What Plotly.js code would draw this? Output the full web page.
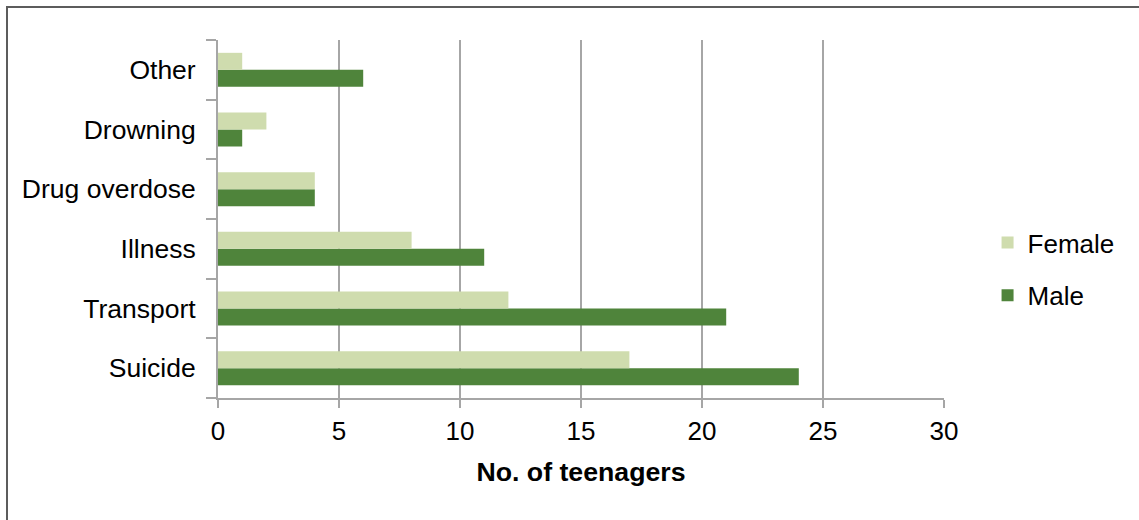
<!DOCTYPE html>
<html>
<head>
<meta charset="utf-8">
<script src="https://cdn.plot.ly/plotly-3.0.1.min.js"></script>
<style>
  html, body { margin: 0; padding: 0; overflow: hidden; background: #fff; }
  #chart { width: 1139px; height: 520px; }
  #frame { position: absolute; left: 6px; top: 6px; width: 2000px; height: 2000px;
           border-top: 2px solid #5c5c5c; border-left: 2px solid #5c5c5c; pointer-events: none; }
</style>
</head>
<body>
<div id="chart"></div>
<div id="frame"></div>
<script>
const categories = ["Suicide", "Transport", "Illness", "Drug overdose", "Drowning", "Other"];
const femaleValues = [17, 12, 8, 4, 2, 1];
const maleValues = [24, 21, 11, 4, 1, 6];
const xTickValues = [0, 5, 10, 15, 20, 25, 30];

const font = "Liberation Sans, Arial, Helvetica, sans-serif";
const fs = 26.5;

const data = [
  { type: "bar", orientation: "h", name: "Male", y: categories, x: maleValues,
    marker: { color: "#4f843b" }, legendgroup: "m", legendrank: 2, hoverinfo: "x+y+name" },
  { type: "bar", orientation: "h", name: "Female", y: categories, x: femaleValues,
    marker: { color: "#cfdcae" }, legendgroup: "f", legendrank: 1, hoverinfo: "x+y+name" }
];

const layout = {
  width: 1139, height: 520,
  margin: { l: 218, r: 195, t: 40, b: 122 },
  paper_bgcolor: "#ffffff", plot_bgcolor: "#ffffff",
  font: { family: font, size: fs, color: "#000000" },
  barmode: "group", bargap: 0.43, bargroupgap: 0,
  showlegend: true,
  legend: { x: 1.060, xanchor: "left", y: 0.36, yanchor: "middle",
            traceorder: "grouped", tracegroupgap: 16,
            font: { family: font, size: fs - 0.5, color: "#000" } },
  xaxis: {
    range: [0, 30], tickvals: xTickValues, ticktext: xTickValues.map(String),
    showgrid: true, gridcolor: "#a6a6a6", gridwidth: 1.5,
    showline: true, linecolor: "#a6a6a6", linewidth: 2,
    ticks: "outside", ticklen: 8, tickcolor: "#a6a6a6", tickwidth: 2,
    ticklabelstandoff: 1,
    zeroline: false, fixedrange: true,
    tickfont: { family: font, size: fs - 0.5, color: "#000" },
    title: { text: "<b>No. of teenagers</b>", standoff: 17,
             font: { family: font, size: 26.7, color: "#000" } }
  },
  yaxis: {
    type: "category", categoryorder: "array", categoryarray: categories,
    showgrid: false, showline: true, linecolor: "#a6a6a6", linewidth: 2,
    ticks: "outside", tickson: "boundaries", ticklen: 10, tickcolor: "#a6a6a6", tickwidth: 2,
    ticklabelstandoff: 15, fixedrange: true,
    tickfont: { family: font, size: fs, color: "#000" }
  }
};

Plotly.newPlot("chart", data, layout, { displayModeBar: false, staticPlot: true });
</script>
</body>
</html>
